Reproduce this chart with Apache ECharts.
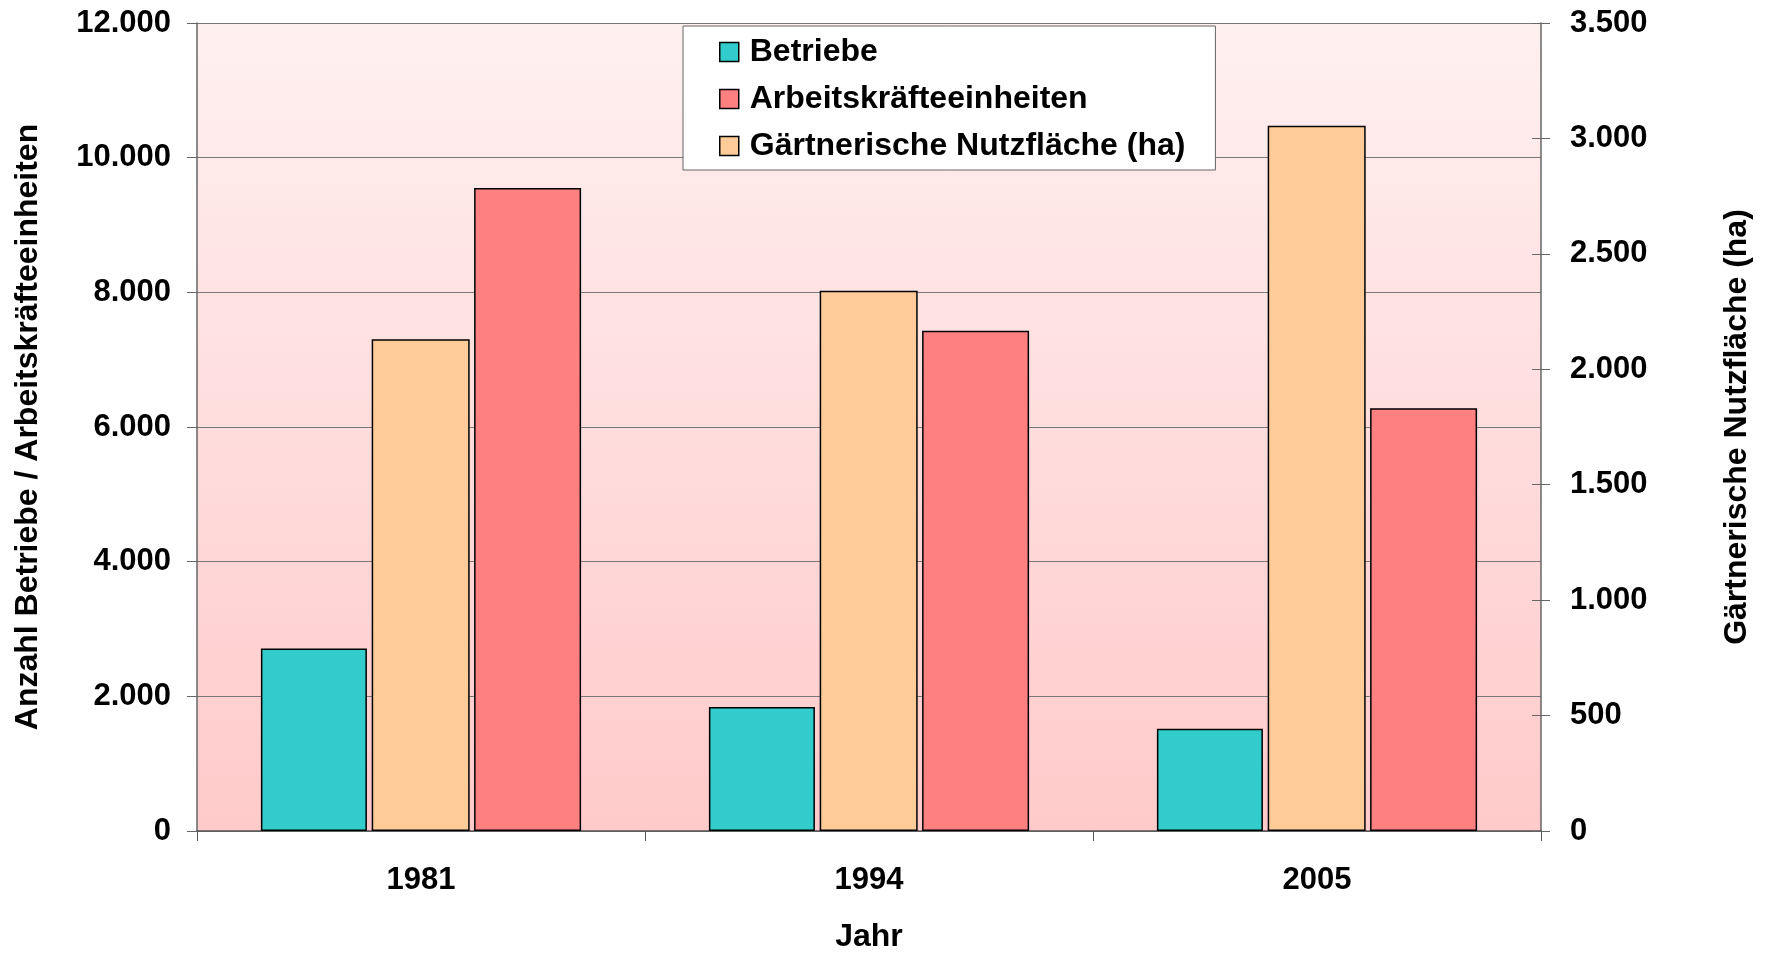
<!DOCTYPE html>
<html>
<head>
<meta charset="utf-8">
<title>Betriebe / AKE / Nutzfläche</title>
<script src="https://cdn.jsdelivr.net/npm/echarts@6/dist/echarts.min.js"></script>
<style>
  html, body { margin: 0; padding: 0; background: #fff; }
  #chart { width: 1767px; height: 954px; }
</style>
</head>
<body>
<div id="chart"></div>
<script>
// data
var years = ["1981", "1994", "2005"];
var betriebe = [2710, 1840, 1520];
var arbeitskraefte = [9550, 7430, 6280];
var nutzflaeche = [2130, 2340, 3055];   // ha, right axis
var leftTicks = { min: 0, max: 12000, step: 2000 };
var rightTicks = { min: 0, max: 3500, step: 500 };

var FONT = "'Liberation Sans', Arial, sans-serif";

function fmt(v) {
  // 12000 -> "12.000"
  return String(v).replace(/\B(?=(\d{3})+(?!\d))/g, ".");
}

var chart = echarts.init(document.getElementById("chart"));

var labelStyle = {
  color: "#000",
  fontFamily: FONT,
  fontWeight: "bold",
  fontSize: 31
};
var nameStyle = {
  color: "#000",
  fontFamily: FONT,
  fontWeight: "bold",
  fontSize: 32
};

var option = {
  backgroundColor: "#fff",
  animation: false,
  textStyle: { fontFamily: FONT },
  grid: {
    left: 197,
    right: 226,
    top: 23,
    bottom: 123,
    containLabel: false,
    outerBoundsMode: "none",
    show: true,
    borderWidth: 0,
    backgroundColor: new echarts.graphic.LinearGradient(0, 0, 0, 1, [
      { offset: 0, color: "#fff0f0" },
      { offset: 1, color: "#ffcaca" }
    ])
  },
  legend: {
    orient: "vertical",
    left: 683,
    top: 26,
    padding: [10, 30, 8, 36],
    itemGap: 15,
    itemWidth: 19,
    itemHeight: 19,
    backgroundColor: "#fff",
    borderColor: "#666",
    borderWidth: 1,
    icon: "rect",
    data: ["Betriebe", "Arbeitskräfteeinheiten", "Gärtnerische Nutzfläche (ha)"],
    textStyle: Object.assign({ padding: [0, 0, 0, 6] }, nameStyle),
    itemStyle: { borderColor: "#000", borderWidth: 1.5 }
  },
  xAxis: {
    type: "category",
    data: years,
    name: "Jahr",
    nameLocation: "middle",
    nameGap: 90,
    nameTextStyle: nameStyle,
    axisLine: { lineStyle: { color: "#555", width: 1.5 } },
    axisTick: { show: true, length: 10, lineStyle: { color: "#555" } },
    axisLabel: Object.assign({ margin: 34 }, labelStyle),
    splitLine: { show: false }
  },
  yAxis: [
    {
      type: "value",
      position: "left",
      min: leftTicks.min,
      max: leftTicks.max,
      interval: leftTicks.step,
      name: "Anzahl Betriebe / Arbeitskräfteeinheiten",
      nameLocation: "middle",
      nameRotate: 90,
      nameGap: 153,
      nameTextStyle: nameStyle,
      axisLine: { show: true, lineStyle: { color: "#666", width: 1.5 } },
      axisTick: { show: true, length: 10, lineStyle: { color: "#666" } },
      axisLabel: Object.assign({ margin: 26, formatter: fmt }, labelStyle),
      splitLine: { show: true, lineStyle: { color: "#777", width: 1 } }
    },
    {
      type: "value",
      position: "right",
      min: rightTicks.min,
      max: rightTicks.max,
      interval: rightTicks.step,
      name: "Gärtnerische Nutzfläche (ha)",
      nameLocation: "middle",
      nameRotate: 90,
      nameGap: 180,
      nameTextStyle: nameStyle,
      axisLine: { show: true, lineStyle: { color: "#666", width: 1.5 } },
      axisTick: { show: true, length: 9, lineStyle: { color: "#666" } },
      axisLabel: Object.assign({ margin: 29, formatter: fmt }, labelStyle),
      splitLine: { show: false }
    },
    {
      // only for the inner half of the right-hand ticks
      type: "value",
      position: "right",
      min: rightTicks.min,
      max: rightTicks.max,
      interval: rightTicks.step,
      axisLine: { show: false },
      axisTick: { show: true, inside: true, length: 9, lineStyle: { color: "#666" } },
      axisLabel: { show: false },
      splitLine: { show: false }
    }
  ],
  series: [
    {
      name: "Betriebe",
      type: "bar",
      yAxisIndex: 0,
      data: betriebe,
      barWidth: 106,
      barGap: "4.5%",
      itemStyle: { color: "#33cccc", borderColor: "#000", borderWidth: 1.5 }
    },
    {
      name: "Gärtnerische Nutzfläche (ha)",
      type: "bar",
      yAxisIndex: 1,
      data: nutzflaeche,
      barWidth: 98,
      barGap: "4.5%",
      itemStyle: { color: "#ffcc99", borderColor: "#000", borderWidth: 1.5 }
    },
    {
      name: "Arbeitskräfteeinheiten",
      type: "bar",
      yAxisIndex: 0,
      data: arbeitskraefte,
      barWidth: 107,
      barGap: "4.5%",
      itemStyle: { color: "#ff8080", borderColor: "#000", borderWidth: 1.5 }
    }
  ]
};

chart.setOption(option);
window.addEventListener("resize", function () { chart.resize(); });
</script>
</body>
</html>
